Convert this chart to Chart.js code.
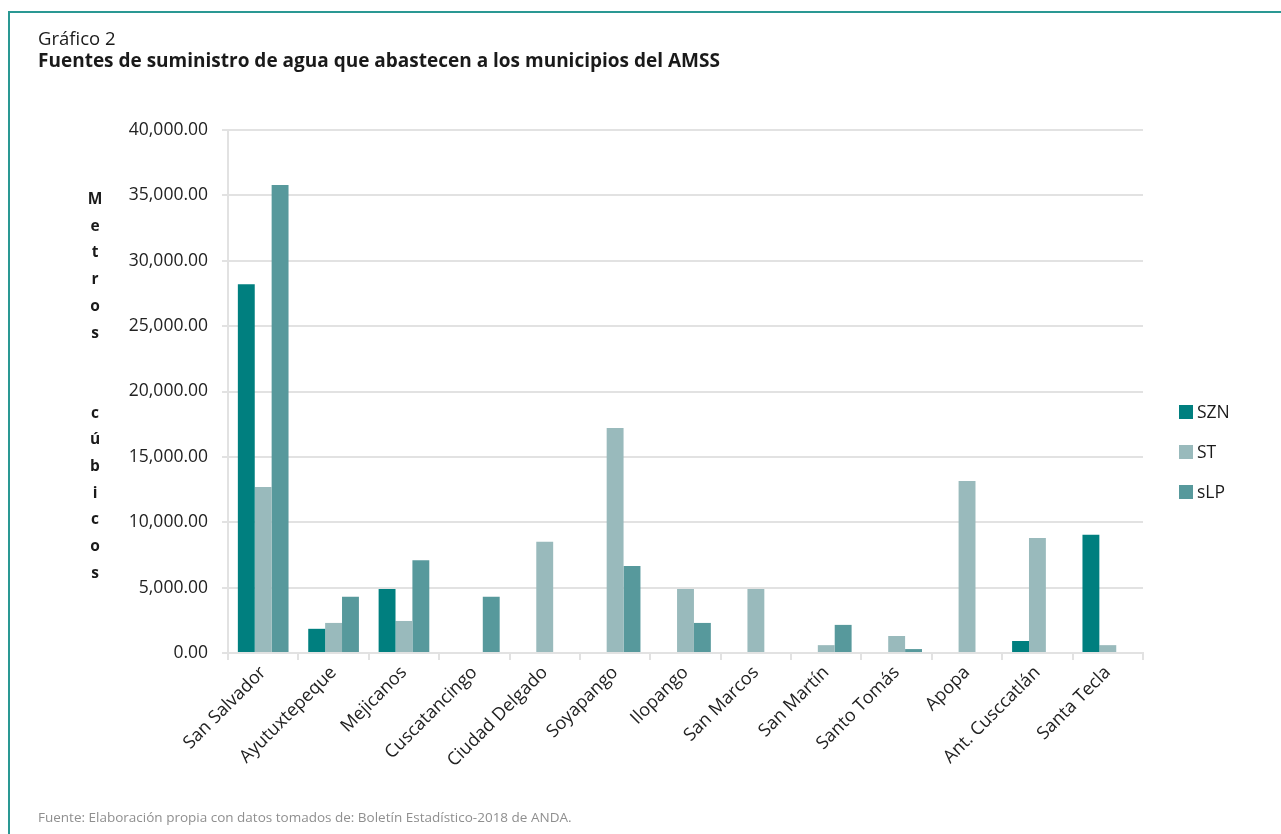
<!DOCTYPE html>
<html lang="es">
<head>
<meta charset="UTF-8">
<title>Gráfico 2</title>
<script src="https://cdn.jsdelivr.net/npm/chart.js@4.4.1/dist/chart.umd.min.js"></script>
<style>
  html, body { margin: 0; padding: 0; background: #fff; }
  body { width: 1281px; height: 834px; position: relative; overflow: hidden; font-family: "Open Sans", "Noto Sans", sans-serif; }
  #frame { position: absolute; left: 8px; top: 11px; right: -4px; bottom: -4px; border-top: 2px solid #2a9893; border-left: 2px solid #2a9893; }
  #wrap { position: absolute; left: 0; top: 0; width: 1281px; height: 834px; }
  .txt { position: absolute; color: #1a1a1a; white-space: nowrap; }
  #kicker { left: 38px; top: 25px; font-size: 18.5px; }
  #title { left: 38px; top: 47px; font-size: 19px; font-weight: bold; }
  #ylab { left: 85px; top: 185px; width: 20px; text-align: center; font-size: 15.5px; font-weight: bold; line-height: 26.7px; }
  #legend { left: 1179px; top: 399px; font-size: 17.5px; }
  #legend div { height: 40px; display: flex; align-items: flex-start; }
  #legend span.box { display: inline-block; width: 14px; height: 14px; margin-top: 6px; margin-right: 4px; }
  #source { left: 38px; top: 808px; font-size: 13.5px; color: #8f8f8f; }
</style>
</head>
<body>
<div id="frame"></div>
<div id="wrap"><canvas id="chart" width="1281" height="834"></canvas></div>
<div class="txt" id="kicker">Gráfico 2</div>
<div class="txt" id="title">Fuentes de suministro de agua que abastecen a los municipios del AMSS</div>
<div class="txt" id="ylab"></div>
<div class="txt" id="legend"></div>
<div class="txt" id="source">Fuente: Elaboración propia con datos tomados de: Boletín Estadístico-2018 de ANDA.</div>

<script>
// municipios
const municipios = ['San Salvador', 'Ayutuxtepeque', 'Mejicanos', 'Cuscatancingo', 'Ciudad Delgado',
  'Soyapango', 'Ilopango', 'San Marcos', 'San Martín', 'Santo Tomás', 'Apopa', 'Ant. Cusccatlán', 'Santa Tecla'];

// metros cubicos por fuente
const szn = [28200, 1850, 4900, null, null, null, null, null, null, null, null, 920, 9050];
const st  = [12700, 2300, 2450, null, 8500, 17200, 4900, 4900, 600, 1300, 13150, 8800, 600];
const slp = [35800, 4300, 7100, 4300, null, 6650, 2300, null, 2150, 300, null, null, null];

const serieNames = ['SZN', 'ST', 'sLP'];
const serieColors = ['#007f7f', '#99babc', '#57999c'];
const yTitle = 'Metros  cúbicos';

// eje y: letras apiladas
document.getElementById('ylab').innerHTML =
  yTitle.split('').map(c => c === ' ' ? '&nbsp;' : c).join('<br>');

// leyenda
document.getElementById('legend').innerHTML = serieNames.map((n, i) =>
  '<div><span class="box" style="background:' + serieColors[i] + '"></span>' + n + '</div>').join('');

const fam = '"Open Sans", "Noto Sans", sans-serif';
const gridCol = '#e2e2e2';

new Chart(document.getElementById('chart'), {
  type: 'bar',
  data: {
    labels: municipios,
    datasets: [szn, st, slp].map((d, i) => ({
      label: serieNames[i],
      data: d,
      backgroundColor: serieColors[i],
      borderWidth: 0,
      barPercentage: 1.0,
      categoryPercentage: 0.72
    }))
  },
  options: {
    responsive: false,
    animation: false,
    devicePixelRatio: 1,
    layout: { padding: { left: 0, top: 130, right: 138, bottom: 0 } },
    plugins: { legend: { display: false }, tooltip: { enabled: false } },
    scales: {
      x: {
        grid: { drawOnChartArea: false, drawTicks: true, tickLength: 7, color: gridCol, lineWidth: 2, offset: true },
        border: { color: gridCol, width: 2 },
        ticks: { font: { family: fam, size: 18 }, color: '#222', maxRotation: 45, minRotation: 45, padding: 2 },
        afterFit: s => { s.height = 181; }
      },
      y: {
        min: 0, max: 40000,
        grid: { color: gridCol, lineWidth: 2, tickLength: 6 },
        border: { color: gridCol, width: 2 },
        ticks: {
          stepSize: 5000, font: { family: fam, size: 17.5 }, color: '#222', padding: 14,
          callback: v => v.toLocaleString('en-US', { minimumFractionDigits: 2, maximumFractionDigits: 2 })
        },
        afterFit: s => { s.width = 228; }
      }
    }
  }
});
</script>
</body>
</html>
